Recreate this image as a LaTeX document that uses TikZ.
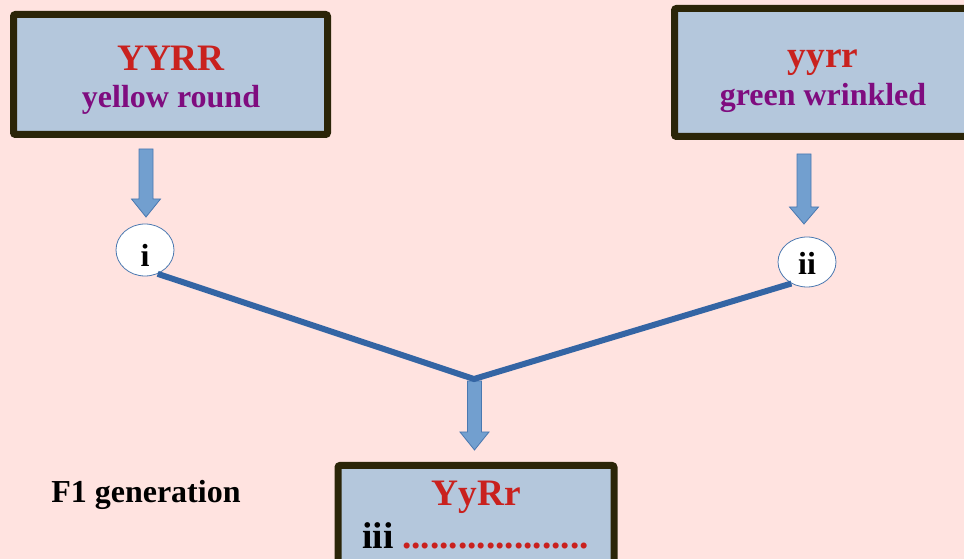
\documentclass[tikz,border=0pt]{standalone}
\usepackage{fontspec}
\setmainfont{Liberation Serif}
\usetikzlibrary{shapes.geometric}
\definecolor{bgpink}{HTML}{FFE3E0}
\definecolor{boxfill}{HTML}{B4C7DC}
\definecolor{boxline}{HTML}{2B2508}
\definecolor{gred}{HTML}{C9211E}
\definecolor{gpurple}{HTML}{7F0C7F}
\definecolor{arrfill}{HTML}{729FCF}
\definecolor{arrline}{HTML}{4A78B0}
\definecolor{connblue}{HTML}{3465A4}
\newcommand\blockarr[4]{%
  \filldraw[barrow] ({#1-7},#2) -- ({#1+7},#2) -- ({#1+7},#3) -- ({#1+14.5},#3)
    -- (#1,#4) -- ({#1-14.5},#3) -- ({#1-7},#3) -- cycle;}
\begin{document}
\begin{tikzpicture}[x=0.75pt,y=-0.75pt,
  genebox/.style={draw=boxline,fill=boxfill,line width=5.25pt,rounded corners=1.5pt,
    rectangle,inner sep=0pt},
  geno/.style={text=gred,font=\bfseries\fontsize{28}{30}\selectfont,anchor=base,inner sep=0pt},
  pheno/.style={text=gpurple,font=\bfseries\fontsize{24}{26}\selectfont,anchor=base,inner sep=0pt},
  plain/.style={text=black,font=\bfseries\fontsize{24}{26}\selectfont,anchor=base,inner sep=0pt},
  gamete/.style={ellipse,draw=arrline,fill=white,line width=0.6pt,inner sep=0pt},
  barrow/.style={fill=arrfill,draw=arrline,line width=0.6pt,line join=miter},
  conn/.style={draw=connblue,line width=4.5pt,line join=miter}]
\useasboundingbox (0,0) rectangle (964,559);
\clip (0,0) rectangle (964,559);
\fill[bgpink] (0,0) rectangle (964,559);
% parent boxes
\node[genebox,minimum width=235.5pt,minimum height=90pt] (p1) at (170.5,74.5) {};
\node[genebox,minimum width=222.75pt,minimum height=96pt] (p2) at (823,72.5) {};
\node[genebox,minimum width=207pt,minimum height=97.5pt] (f1) at (476,530.5) {};
% texts
\node[geno] (t1a) at (171,71) {YYRR};
\node[pheno] (t1b) at (171,108) {yellow round};
\node[geno] (t2a) at (823,68) {yyrr};
\node[pheno] (t2b) at (823,106) {green wrinkled};
\node[geno] (t3a) at (476,505) {YyRr};
\node[geno,text=black,anchor=base west] (t3b) at (362,548) {iii};
\node[geno,anchor=base west] (t3c) at (402,548) {....................};
\node[plain,anchor=base west] (gen) at (51,503) {F1 generation};
% block arrows
\blockarr{146}{149}{199}{217}
\blockarr{804}{154}{207}{224}
\blockarr{474.5}{381}{432}{450}
% gametes
\node[gamete,minimum width=43.5pt,minimum height=39pt] (i) at (145,250) {};
\node[gamete,minimum width=43.5pt,minimum height=37.5pt] (ii) at (807,262) {};
\node[plain] (ti) at (145,267) {i};
\node[plain] (tii) at (807,275) {ii};
% fusion
\coordinate (j) at (474,379);
\draw[conn] (i.-62) -- (j) -- (ii.-126);
\end{tikzpicture}
\end{document}
